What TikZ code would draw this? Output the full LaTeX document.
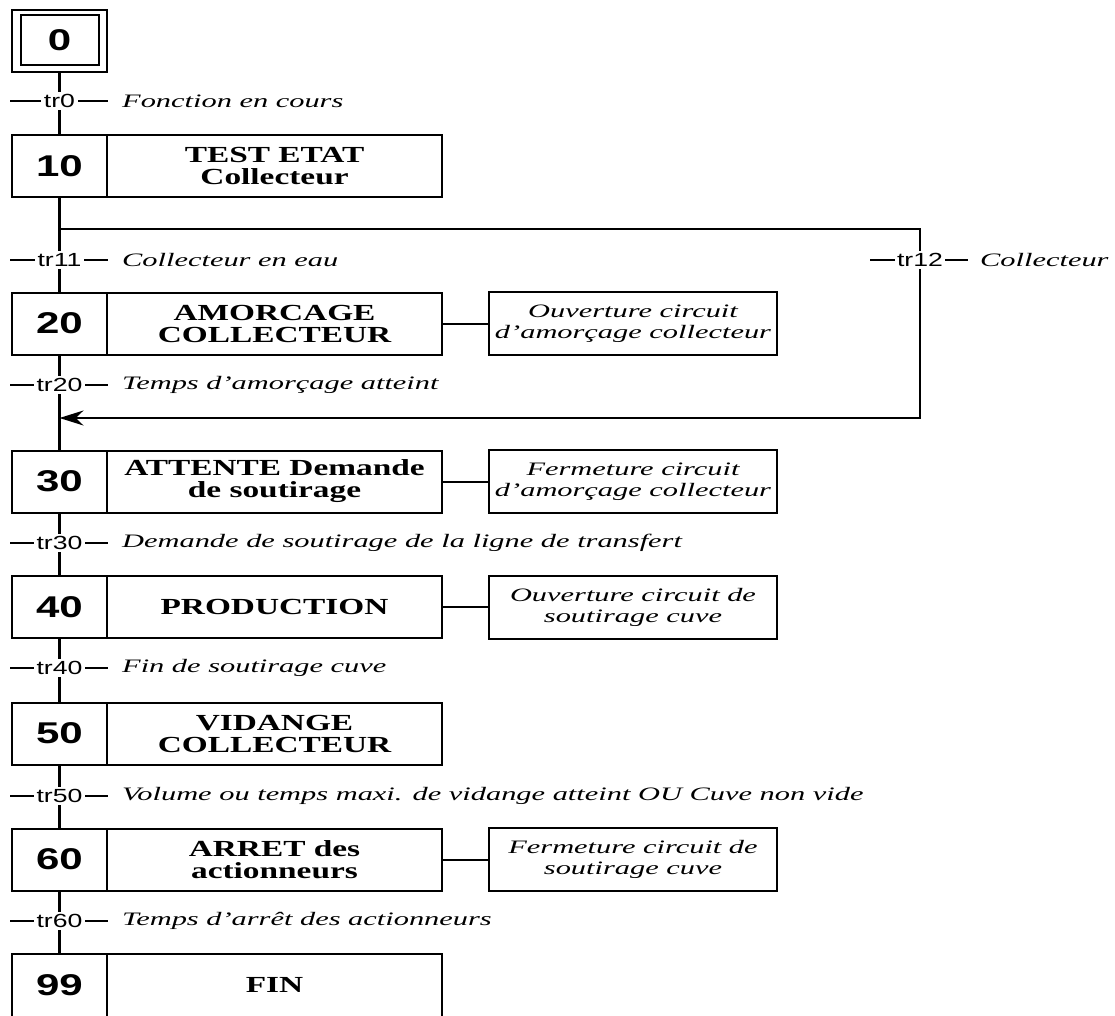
\documentclass[tikz,border=0pt]{standalone}
\usepackage{fontspec}
\usetikzlibrary{arrows.meta}
\newfontfamily\numfont[FakeStretch=1.4]{Liberation Sans}
\newfontfamily\trfont[FakeStretch=1.4]{Liberation Sans}
\newfontfamily\stepfont[FakeStretch=1.45]{Liberation Serif}
\newfontfamily\condfont[FakeStretch=1.6]{Liberation Serif}
\begin{document}
\begin{tikzpicture}[x=1pt,y=-1pt,
 stepnum/.style={draw, line width=2pt, minimum width=95pt, minimum height=62pt, inner sep=0pt, font=\numfont\bfseries\fontsize{30}{30}\selectfont},
 steptxt/.style={draw, line width=2pt, minimum width=335pt, minimum height=62pt, inner sep=0pt, align=center, font=\stepfont\bfseries\fontsize{23}{22}\selectfont},
 actbox/.style={draw, line width=2pt, minimum width=288pt, minimum height=63pt, inner sep=0pt, align=center, font=\condfont\itshape\fontsize{19}{21}\selectfont},
 trlab/.style={fill=white, inner sep=2.5pt, font=\trfont\fontsize{19}{19}\selectfont},
 cond/.style={anchor=west, inner sep=0pt, font=\condfont\itshape\fontsize{19}{19}\selectfont},
 link/.style={line width=2.5pt},
 tick/.style={line width=2pt},
 thin/.style={line width=2pt}]
\useasboundingbox (0,0) rectangle (1115,1016);

% initial step
\node[draw, line width=1.5pt, minimum width=95pt, minimum height=62pt] (s0o) at (59.5,41) {};
\node[stepnum, minimum width=78pt, minimum height=50pt] (s0) at (59.5,40) {0};

% steps
\node[stepnum] (s10) at (59.5,166) {10};
\node[steptxt] (t10) at (274.5,166) {TEST ETAT\\Collecteur};
\node[stepnum] (s20) at (59.5,323.5) {20};
\node[steptxt] (t20) at (274.5,323.5) {AMORCAGE\\COLLECTEUR};
\node[stepnum] (s30) at (59.5,481.5) {30};
\node[steptxt] (t30) at (274.5,481.5) {ATTENTE Demande\\de soutirage};
\node[stepnum] (s40) at (59.5,607) {40};
\node[steptxt] (t40) at (274.5,607) {PRODUCTION};
\node[stepnum] (s50) at (59.5,733.5) {50};
\node[steptxt] (t50) at (274.5,733.5) {VIDANGE\\COLLECTEUR};
\node[stepnum] (s60) at (59.5,859.5) {60};
\node[steptxt] (t60) at (274.5,859.5) {ARRET des\\actionneurs};
\node[stepnum, minimum height=66pt] (s99) at (59.5,987) {};
\node[font=\numfont\bfseries\fontsize{30}{30}\selectfont, inner sep=0pt] (n99) at (59.5,985) {99};
\node[steptxt, minimum height=66pt] (t99) at (274.5,987) {};
\node[font=\stepfont\bfseries\fontsize{23}{22}\selectfont] (fin) at (274.5,985) {FIN};

% actions
\node[actbox] (a20) at (633,323.5) {Ouverture circuit\\d’amorçage collecteur};
\node[actbox] (a30) at (633,481.5) {Fermeture circuit\\d’amorçage collecteur};
\node[actbox] (a40) at (633,607) {Ouverture circuit de\\soutirage cuve};
\node[actbox] (a60) at (633,859.5) {Fermeture circuit de\\soutirage cuve};
\foreach \n in {20,30,40,60} \draw[thin] (t\n.east) -- (a\n.west);

% transition ticks
\foreach \yy in {101,260,385,543,668,796,921} \draw[tick] (10,\yy) -- (108,\yy);
\draw[tick] (870,260) -- (968,260);

% transition labels
\node[trlab] (tr0) at (59.5,101) {tr0};
\node[trlab] (tr11) at (59.5,260) {tr11};
\node[trlab] (tr12) at (920,260) {tr12};
\node[trlab] (tr20) at (59.5,385) {tr20};
\node[trlab] (tr30) at (59.5,543) {tr30};
\node[trlab] (tr40) at (59.5,668) {tr40};
\node[trlab] (tr50) at (59.5,796) {tr50};
\node[trlab] (tr60) at (59.5,921) {tr60};

% conditions
\node[cond] (c0) at (122,101) {Fonction en cours};
\node[cond] (c11) at (122,260) {Collecteur en eau};
\node[cond] (c12) at (980,260) {Collecteur};
\node[cond] (c20) at (122,385) {Temps d’amorçage atteint};
\node[cond] (c30) at (122,543) {Demande de soutirage de la ligne de transfert};
\node[cond] (c40) at (122,668) {Fin de soutirage cuve};
\node[cond] (c50) at (122,796) {Volume ou temps maxi. de vidange atteint OU Cuve non vide};
\node[cond] (c60) at (122,921) {Temps d’arrêt des actionneurs};

% main links
\draw[link] (s0o) -- (tr0);
\draw[link] (tr0) -- (s10);
\draw[link] (s10) -- (tr11);
\draw[link] (tr11) -- (s20);
\draw[link] (s20) -- (tr20);
\draw[link] (tr20) -- (s30);
\draw[link] (s30) -- (tr30);
\draw[link] (tr30) -- (s40);
\draw[link] (s40) -- (tr40);
\draw[link] (tr40) -- (s50);
\draw[link] (s50) -- (tr50);
\draw[link] (tr50) -- (s60);
\draw[link] (s60) -- (tr60);
\draw[link] (tr60) -- (s99);

% branch
\coordinate (b1) at (59.5,229);
\coordinate (j1) at (59.5,418);
\draw[thin] (b1) -| (tr12);
\draw[thin, -{Stealth[length=24pt,width=15pt]}] (tr12) |- (j1);
\end{tikzpicture}
\end{document}
